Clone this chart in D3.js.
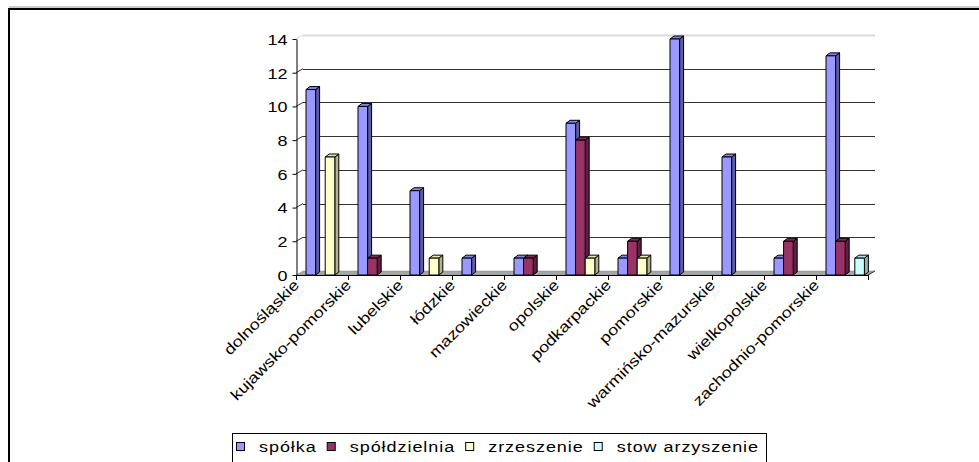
<!DOCTYPE html>
<html><head><meta charset="utf-8">
<script src="https://cdn.jsdelivr.net/npm/d3@7"></script>
<style>
body{margin:0;background:#fff}
svg{display:block}
text{font-family:"Liberation Sans",Arial,sans-serif;fill:#000}
</style>
</head><body>
<svg id="c" width="979" height="462"></svg>
<script>
// ---- data ----
const categories = ["dolnośląskie","kujawsko-pomorskie","lubelskie","łódzkie","mazowieckie","opolskie","podkarpackie","pomorskie","warmińsko-mazurskie","wielkopolskie","zachodnio-pomorskie"];
const seriesNames = ["spółka","spółdzielnia","zrzeszenie","stow arzyszenie"];
const spolka         = [11,10,5,1,1,9,1,14,7,1,13];
const spoldzielnia   = [0,1,0,0,1,8,2,0,0,2,2];
const zrzeszenie     = [7,0,1,0,0,1,1,0,0,0,0];
const stowarzyszenie = [0,0,0,0,0,0,0,0,0,0,1];
const yTicks = [0,2,4,6,8,10,12,14];
const seriesValues = [spolka, spoldzielnia, zrzeszenie, stowarzyszenie];
const frontColors = ["#9999FF","#993366","#FFFFCC","#CCFFFF"];
const sideColors  = ["#5C5CA8","#5E1F40","#B3B38C","#8CB3B3"];
const topColors   = ["#8585E6","#80294F","#E6E6B3","#B3E6E6"];

const svg = d3.select("#c");
const SX = 1.2; // horizontal stretch of text

const x = d3.scaleBand().domain(categories).range([296, 868]).paddingInner(0).paddingOuter(0);
const xs = d3.scaleBand().domain(seriesNames).range([10, 10 + 4*9.6]);
const y = d3.scaleLinear().domain([0, 14]).range([275, 39]);
const wallDx = 7, wallDy = -4;
const barDx = 4, barDy = -3;
const x0 = x.range()[0], x1 = x.range()[1];

// outer frame
svg.append("line").attr("x1",9).attr("x2",979).attr("y1",7).attr("y2",7).attr("stroke","#999").attr("stroke-width",1);
svg.append("line").attr("x1",8).attr("x2",979).attr("y1",9).attr("y2",9).attr("stroke","#000").attr("stroke-width",2);
svg.append("line").attr("x1",9).attr("x2",9).attr("y1",8).attr("y2",462).attr("stroke","#000").attr("stroke-width",2);

// floor
svg.append("polygon")
  .attr("points", [[x0,y(0)],[x1,y(0)],[x1+wallDx,y(0)+wallDy],[x0+wallDx,y(0)+wallDy]].map(p=>p.join(",")).join(" "))
  .attr("fill","#a6a6a6").attr("stroke","#888").attr("stroke-width",0.5);

// gridlines on back wall + diagonals
yTicks.filter(v=>v>0).forEach(v=>{
  const top = v === 14;
  const yy = Math.round(y(v) + wallDy) + 0.5;
  svg.append("line").attr("x1",x0+wallDx).attr("x2",x1+wallDx).attr("y1",yy).attr("y2",yy)
    .attr("stroke", top ? "#d9d9d9" : "#333").attr("stroke-width", top ? 2 : 1);
  svg.append("line").attr("x1",x0).attr("y1",y(v)).attr("x2",x0+wallDx).attr("y2",y(v)+wallDy)
    .attr("stroke", top ? "#d9d9d9" : "#333").attr("stroke-width",1);
});
// right end diagonal of floor
svg.append("line").attr("x1",x1).attr("y1",y(0)).attr("x2",x1+wallDx).attr("y2",y(0)+wallDy).attr("stroke","#333");

// y axis
const yAxis = svg.append("g").attr("transform",`translate(${x0+0.5},0)`)
  .call(d3.axisLeft(y).tickValues(yTicks).tickSize(4).tickSizeOuter(0).tickFormat(d3.format("d")));
yAxis.select(".domain").attr("stroke","#000");
yAxis.selectAll(".tick line").attr("stroke","#000");
yAxis.selectAll(".tick text").attr("x",0).attr("dy","0.36em").attr("font-size",15)
  .attr("font-family",'"Liberation Sans",Arial,sans-serif').attr("fill","#000")
  .attr("transform",`translate(-9,0) scale(${SX},1)`);

// x axis line and ticks
svg.append("line").attr("x1",x0).attr("x2",x1).attr("y1",y(0)+0.5).attr("y2",y(0)+0.5).attr("stroke","#000");
categories.concat(["__end"]).forEach((c,i)=>{
  const xx = (i < categories.length ? x(c) : x1) + 0.5;
  svg.append("line").attr("x1",xx).attr("x2",xx).attr("y1",y(0)).attr("y2",y(0)+5).attr("stroke","#000");
});

// bars (3D)
seriesValues.forEach((vals, si)=>{
  vals.forEach((v, ci)=>{
    if (!v) return;
    const bx = x(categories[ci]) + xs(seriesNames[si]);
    const w = xs.bandwidth();
    const yt = y(v), yb = y(0);
    const g = svg.append("g").attr("stroke","#000").attr("stroke-width",1).attr("stroke-linejoin","round");
    // side
    g.append("polygon").attr("points", [[bx+w,yt],[bx+w+barDx,yt+barDy],[bx+w+barDx,yb+barDy],[bx+w,yb]].map(p=>p.join(",")).join(" "))
      .attr("fill", sideColors[si]);
    // top
    g.append("polygon").attr("points", [[bx,yt],[bx+barDx,yt+barDy],[bx+w+barDx,yt+barDy],[bx+w,yt]].map(p=>p.join(",")).join(" "))
      .attr("fill", topColors[si]);
    // front
    g.append("rect").attr("x",bx).attr("y",yt).attr("width",w).attr("height",yb-yt).attr("fill",frontColors[si]);
  });
});

// category labels
categories.forEach(c=>{
  svg.append("text").attr("text-anchor","end").attr("font-size",15)
    .attr("transform",`translate(${x(c)+4},286) rotate(-45) scale(${SX},1)`)
    .text(c);
});

// legend
const lg = svg.append("g");
lg.append("rect").attr("x",232.5).attr("y",433.5).attr("width",534).attr("height",40).attr("fill","#fff").attr("stroke","#000");
let lx = 236;
seriesNames.forEach((s,i)=>{
  lg.append("rect").attr("x",lx+0.5).attr("y",442.5).attr("width",8).attr("height",8)
    .attr("fill",frontColors[i]).attr("stroke","#000");
  const t = lg.append("text").attr("font-size",15).attr("letter-spacing",0.8)
    .attr("transform",`translate(${lx+23},451.5) scale(${SX},1)`).text(s);
  const tw = t.node().getComputedTextLength() * SX;
  lx = lx + 23 + tw + 10;
});
</script>
</body></html>
